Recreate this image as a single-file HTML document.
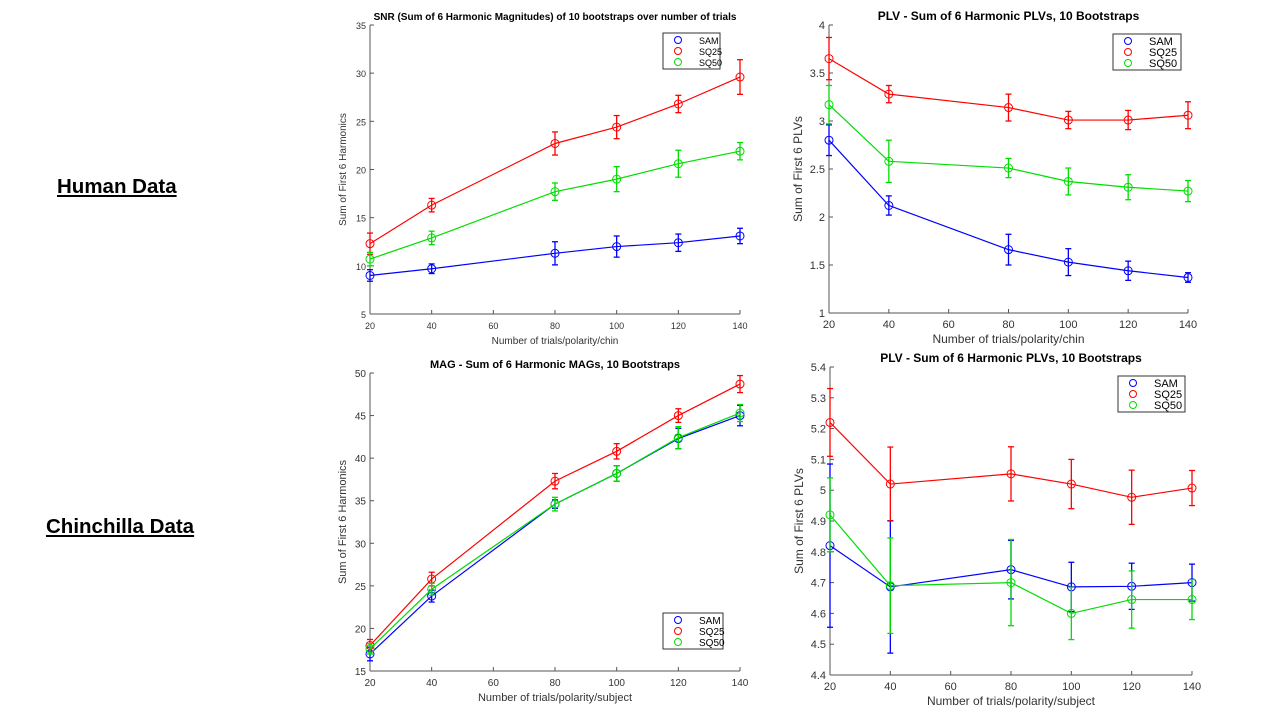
<!DOCTYPE html>
<html><head><meta charset="utf-8"><style>
body{margin:0;width:1280px;height:720px;background:#fff;position:relative;overflow:hidden;font-family:"Liberation Sans",sans-serif}
.lbl{position:absolute;font-weight:bold;font-size:20.5px;text-decoration:underline;color:#000}
</style></head><body>
<div class="lbl" style="left:57px;top:175px">Human Data</div>
<div class="lbl" style="left:46px;top:515px">Chinchilla Data</div>
<svg id="svg" width="1280" height="720" style="position:absolute;left:0;top:0"></svg>
<script>
const xCats=[20,40,80,100,120,140];
const xTicks=[20,40,60,80,100,120,140];
const seriesNames=["SAM","SQ25","SQ50"];
const colors=["#0000ff","#ff0000","#00dd00"];
// Top-left: SNR
const tlSAM=[9.0,9.7,11.3,12.0,12.4,13.1], tlSAMe=[0.6,0.5,1.2,1.1,0.9,0.8];
const tlSQ25=[12.3,16.3,22.7,24.4,26.8,29.6], tlSQ25e=[1.1,0.7,1.2,1.2,0.9,1.8];
const tlSQ50=[10.7,12.9,17.7,19.0,20.6,21.9], tlSQ50e=[0.7,0.7,0.9,1.3,1.4,0.9];
const tlYTicks=[5,10,15,20,25,30,35];
// Top-right: PLV human
const trSAM=[2.8,2.12,1.66,1.53,1.44,1.37], trSAMe=[0.16,0.1,0.16,0.14,0.1,0.05];
const trSQ25=[3.65,3.28,3.14,3.01,3.01,3.06], trSQ25e=[0.22,0.09,0.14,0.09,0.1,0.14];
const trSQ50=[3.17,2.58,2.51,2.37,2.31,2.27], trSQ50e=[0.2,0.22,0.1,0.14,0.13,0.11];
const trYTicks=[1,1.5,2,2.5,3,3.5,4];
// Bottom-left: MAG chin
const blSAM=[17.0,23.8,34.6,38.2,42.3,45.0], blSAMe=[0.8,0.7,0.5,0.9,1.2,1.2];
const blSQ25=[18.0,25.8,37.3,40.8,45.0,48.7], blSQ25e=[0.7,0.8,0.9,0.9,0.8,1.0];
const blSQ50=[17.6,24.6,34.6,38.2,42.4,45.3], blSQ50e=[0.6,0.7,0.8,0.9,1.3,1.0];
const blYTicks=[15,20,25,30,35,40,45,50];
// Bottom-right: PLV chin
const brSAM=[4.82,4.686,4.742,4.686,4.688,4.70], brSAMe=[0.265,0.215,0.095,0.08,0.075,0.06];
const brSQ25=[5.22,5.02,5.053,5.02,4.977,5.007], brSQ25e=[0.11,0.12,0.088,0.08,0.088,0.057];
const brSQ50=[4.92,4.69,4.70,4.60,4.645,4.645], brSQ50e=[0.12,0.155,0.14,0.085,0.093,0.065];
const brYTicks=[4.4,4.5,4.6,4.7,4.8,4.9,5,5.1,5.2,5.3,5.4];

const svg=document.getElementById('svg');
const NS='http://www.w3.org/2000/svg';
function mk(tag,attrs,parent){const e=document.createElementNS(NS,tag);for(const k in attrs)e.setAttribute(k,attrs[k]);(parent||svg).appendChild(e);return e;}
function txt(x,y,s,size,anchor,parent,extra){const t=mk('text',Object.assign({x:x,y:y,'font-size':size,'text-anchor':anchor||'middle',fill:'#333','font-family':'Liberation Sans, sans-serif'},extra||{}),parent);t.textContent=s;return t;}

function chart(id,box,ymin,ymax,yTicks,series,errs,title,xlabel,ylabel,legendPos){
  const g=mk('g',{});
  
  
  const X=v=>box.x0+(v-20)/(140-20)*(box.x1-box.x0);
  const Y=v=>box.y1-(v-ymin)/(ymax-ymin)*(box.y1-box.y0);
  mk('line',{x1:box.x0,y1:box.y0,x2:box.x0,y2:box.y1,stroke:'#555','stroke-width':1},g);
  mk('line',{x1:box.x0,y1:box.y1,x2:box.x1,y2:box.y1,stroke:'#555','stroke-width':1},g);
  xTicks.forEach(v=>{mk('line',{x1:X(v),y1:box.y1,x2:X(v),y2:box.y1-4,stroke:'#555'},g);
    const t=txt(X(v),box.y1+15,String(v),box.fs,'middle',g);
    });
  yTicks.forEach(v=>{mk('line',{x1:box.x0,y1:Y(v),x2:box.x0+4,y2:Y(v),stroke:'#555'},g);
    const t=txt(box.x0-4,Y(v)+4,String(v),box.fs,'end',g);
    });
  const tt=txt((box.x0+box.x1)/2,box.y0-5,title,box.fs+1,'middle',g,{'font-weight':'bold',fill:'#000'});
  
  const xl=txt((box.x0+box.x1)/2,box.y1+30,xlabel,box.fs+1,'middle',g);
  
  const yl=txt(0,0,ylabel,box.fs+1,'middle',g,{transform:`translate(${box.x0-box.yoff},${(box.y0+box.y1)/2}) rotate(-90)`});
  
  series.forEach((s,i)=>{
    const c=colors[i];
    const pl=mk('polyline',{points:s.map((v,j)=>X(xCats[j])+','+Y(v)).join(' '),fill:'none',stroke:c,'stroke-width':1.2},g);
    
    s.forEach((v,j)=>{const x=X(xCats[j]),e=errs[i][j];
      mk('line',{x1:x,y1:Y(v-e),x2:x,y2:Y(v+e),stroke:c,'stroke-width':1.3},g);
      mk('line',{x1:x-3,y1:Y(v-e),x2:x+3,y2:Y(v-e),stroke:c,'stroke-width':1.3},g);
      mk('line',{x1:x-3,y1:Y(v+e),x2:x+3,y2:Y(v+e),stroke:c,'stroke-width':1.3},g);
      const m=mk('circle',{cx:x,cy:Y(v),r:4,fill:'none',stroke:c,'stroke-width':1},g);
      
    });
  });
  const lg=mk('g',{},g);
  
  mk('rect',{x:legendPos[0],y:legendPos[1],width:legendPos[2],height:36,fill:'#fff',stroke:'#333','stroke-width':1},lg);
  seriesNames.forEach((n,i)=>{const yy=legendPos[1]+7+i*11;
    mk('circle',{cx:legendPos[0]+15,cy:yy,r:3.5,fill:'none',stroke:colors[i]},lg);
    const t=txt(legendPos[0]+36,yy+4,n,box.fs,'start',lg,{fill:'#000'});
    });
}
chart('snr-human-chart',{x0:370,x1:740,y0:25,y1:314,fs:9,yoff:24},5,35,tlYTicks,[tlSAM,tlSQ25,tlSQ50],[tlSAMe,tlSQ25e,tlSQ50e],
 'SNR (Sum of 6 Harmonic Magnitudes) of 10 bootstraps over number of trials','Number of trials/polarity/chin','Sum of First 6 Harmonics',[663,33,57]);
chart('plv-human-chart',{x0:829,x1:1188,y0:25,y1:313,fs:11,yoff:27},1,4,trYTicks,[trSAM,trSQ25,trSQ50],[trSAMe,trSQ25e,trSQ50e],
 'PLV - Sum of 6 Harmonic PLVs, 10 Bootstraps','Number of trials/polarity/chin','Sum of First 6 PLVs',[1113,34,68]);
chart('mag-chin-chart',{x0:370,x1:740,y0:373,y1:671,fs:10,yoff:24},15,50,blYTicks,[blSAM,blSQ25,blSQ50],[blSAMe,blSQ25e,blSQ50e],
 'MAG - Sum of 6 Harmonic MAGs, 10 Bootstraps','Number of trials/polarity/subject','Sum of First 6 Harmonics',[663,613,60]);
chart('plv-chin-chart',{x0:830,x1:1192,y0:367,y1:675,fs:11,yoff:27},4.4,5.4,brYTicks,[brSAM,brSQ25,brSQ50],[brSAMe,brSQ25e,brSQ50e],
 'PLV - Sum of 6 Harmonic PLVs, 10 Bootstraps','Number of trials/polarity/subject','Sum of First 6 PLVs',[1118,376,67]);
</script>
</body></html>
